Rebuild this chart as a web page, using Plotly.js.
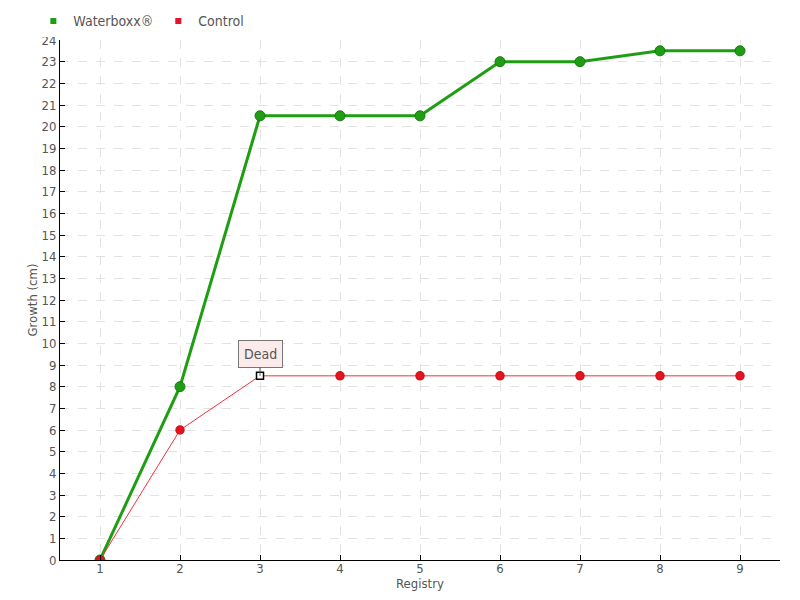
<!DOCTYPE html>
<html><head><meta charset="utf-8">
<script src="https://cdn.plot.ly/plotly-3.0.1.min.js"></script>
<style>body{margin:0}#c{width:800px;height:600px}</style>
</head><body><div id="c"></div>
<script>
const registry = [1,2,3,4,5,6,7,8,9];
const waterboxx = [0,8,20.5,20.5,20.5,23,23,23.5,23.5];
const control = [0,6,8.5,8.5,8.5,8.5,8.5,8.5,8.5];
const yTicks = Array.from({length:25},(_,i)=>i);
const deadIndex = 2;
const font = "'DejaVu Sans Condensed','DejaVu Sans',sans-serif";
const ctrlSymbols = control.map((v,i)=> i===deadIndex ? 'square' : 'circle');
const ctrlColors = control.map((v,i)=> i===deadIndex ? '#ffffff' : '#e3141f');
const ctrlLineColors = control.map((v,i)=> i===deadIndex ? '#000000' : '#d8101a');
const ctrlSizes = control.map((v,i)=> i===deadIndex ? 7 : 8);
const data = [
 {x:registry,y:waterboxx,name:'Waterboxx®',mode:'lines+markers',showlegend:false,
  line:{color:'#1f9e14',width:3},marker:{color:'#1f9e14',size:10,line:{color:'#17780f',width:1}}},
 {x:registry,y:control,name:'Control',mode:'lines+markers',showlegend:false,
  line:{color:'#f0303c',width:1},marker:{color:ctrlColors,size:ctrlSizes,symbol:ctrlSymbols,opacity:1,line:{color:ctrlLineColors,width:1.5}}},
 {x:[null],y:[null],name:'Waterboxx®',mode:'markers',marker:{symbol:'square',size:6,color:'#1f9e14'}},
 {x:[null],y:[null],name:'Control',mode:'markers',marker:{symbol:'square',size:6,color:'#e8102a'}}
];
const layout = {
 width:800,height:600,margin:{l:60,r:20,t:40,b:40,autoexpand:false},
 paper_bgcolor:'#fff',plot_bgcolor:'#fff',
 font:{family:font,color:'#555',size:12},
 showlegend:true,
 legend:{orientation:'h',x:-0.037,xref:'paper',y:1.005,yanchor:'bottom',xanchor:'left',font:{size:14,color:'#555'},itemwidth:30,traceorder:'normal',tracegroupgap:0},
 xaxis:{range:[0.5,9.5],tickvals:registry,showline:true,linecolor:'#000',linewidth:1,
  ticks:'inside',ticklen:5,tickcolor:'#000',showgrid:true,gridcolor:'#e2e2e2',griddash:'dash',ticklabelstandoff:-4,
  zeroline:false,title:{text:'Registry',standoff:0,font:{size:13}},tickfont:{size:13}},
 yaxis:{range:[0,24],tickvals:yTicks,showline:true,linecolor:'#000',linewidth:1,
  ticks:'inside',ticklen:5,tickcolor:'#000',showgrid:true,gridcolor:'#e2e2e2',griddash:'dash',
  zeroline:false,title:{text:'Growth (cm)',standoff:0,font:{size:13}},tickfont:{size:13}},
 annotations:[{x:3,y:8.5,text:'Dead',showarrow:true,arrowhead:0,arrowwidth:1,arrowcolor:'#555',ax:0,ay:-22,
  bgcolor:'#fdeaea',bordercolor:'#777',borderwidth:1,borderpad:5,font:{size:14,color:'#555'}}]
};
Plotly.newPlot('c',data,layout,{displayModeBar:false});
</script></body></html>
